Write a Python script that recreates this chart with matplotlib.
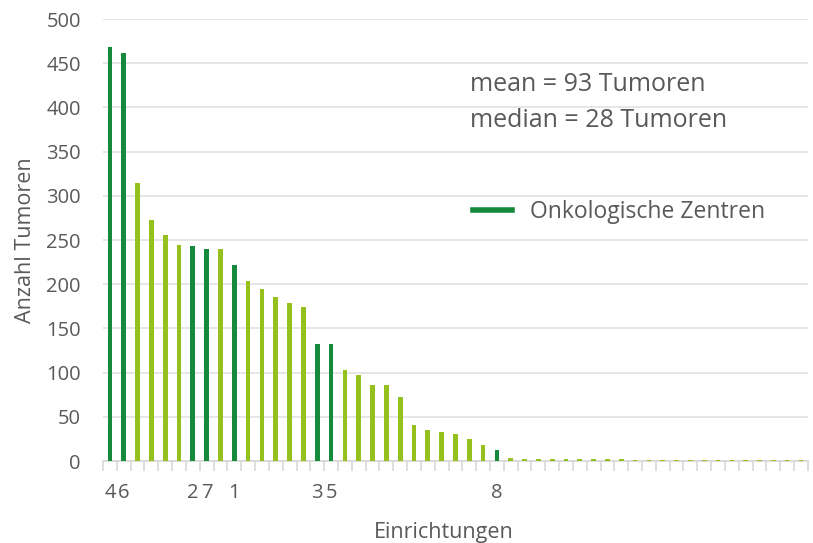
import numpy as np
import matplotlib.pyplot as plt
from matplotlib.lines import Line2D

plt.rcParams['font.family'] = ['Open Sans', 'DejaVu Sans']

## Daten: Tumoren pro Einrichtung (absteigend sortiert)
anzahl = [468, 461, 314, 273, 256, 244, 243, 240, 240, 222,
          204, 195, 186, 179, 174, 132, 132, 103, 97, 86,
          86, 72, 41, 35, 33, 30, 25, 18, 12, 3,
          2, 2, 2, 2, 2, 2, 2, 2, 1, 1,
          1, 1, 1, 1, 1, 1, 1, 1, 1, 1, 1]
# Kennung der Onkologischen Zentren (sonst leer)
labels = ['4', '6', '', '', '', '', '2', '7', '', '1',
          '', '', '', '', '', '3', '5', '', '', '',
          '', '', '', '', '', '', '', '', '8', '',
          '', '', '', '', '', '', '', '', '', '',
          '', '', '', '', '', '', '', '', '', '', '']
onko = [lab != '' for lab in labels]

dunkel = '#168a3c'
hell = '#95c11f'
grau = '#595959'
farben = [dunkel if o else hell for o in onko]

x = np.arange(len(anzahl))

fig = plt.figure(figsize=(8.13, 5.43), dpi=100)
ax = fig.add_axes([0.1267, 0.151, 0.867, 0.814])

ax.bar(x, anzahl, width=0.34, color=farben, zorder=3)

ax.set_ylim(0, 500)
ax.set_xlim(-0.5, len(anzahl) - 0.5)
ax.set_yticks(np.arange(0, 501, 50))
ax.yaxis.grid(True, color='#e4e4e4', linewidth=1.3, zorder=0)
ax.tick_params(axis='y', length=0, pad=16, labelsize=14.5, labelcolor=grau)

ax.set_xticks(x)
ax.set_xticklabels(labels)
ax.set_xticks(np.arange(-0.5, len(anzahl)), minor=True)
ax.tick_params(axis='x', which='major', length=0, pad=16, labelsize=14.5, labelcolor=grau)
ax.tick_params(axis='x', which='minor', length=7, color='#d9d9d9', width=1.2)

for s in ['top', 'right', 'left']:
    ax.spines[s].set_visible(False)
ax.spines['bottom'].set_color('#d9d9d9')
ax.spines['bottom'].set_linewidth(1.3)

ax.set_ylabel('Anzahl Tumoren', fontsize=15.5, color=grau, labelpad=7)
ax.set_xlabel('Einrichtungen', fontsize=15.5, color=grau, labelpad=12)
ax.xaxis.set_label_coords(0.483, -0.138)

fig.text(0.578, 0.845, 'mean = 93 Tumoren', fontsize=18, color=grau, va='center')
fig.text(0.578, 0.779, 'median = 28 Tumoren', fontsize=18, color=grau, va='center')

handle = Line2D([0], [0], color=dunkel, linewidth=4)
leg = fig.legend([handle], ['Onkologische Zentren'], loc='center left',
                 bbox_to_anchor=(0.556, 0.609), frameon=False, fontsize=16.5,
                 handlelength=1.7, handletextpad=0.8)
for t in leg.get_texts():
    t.set_color(grau)

fig.savefig('out.png', dpi=100)
